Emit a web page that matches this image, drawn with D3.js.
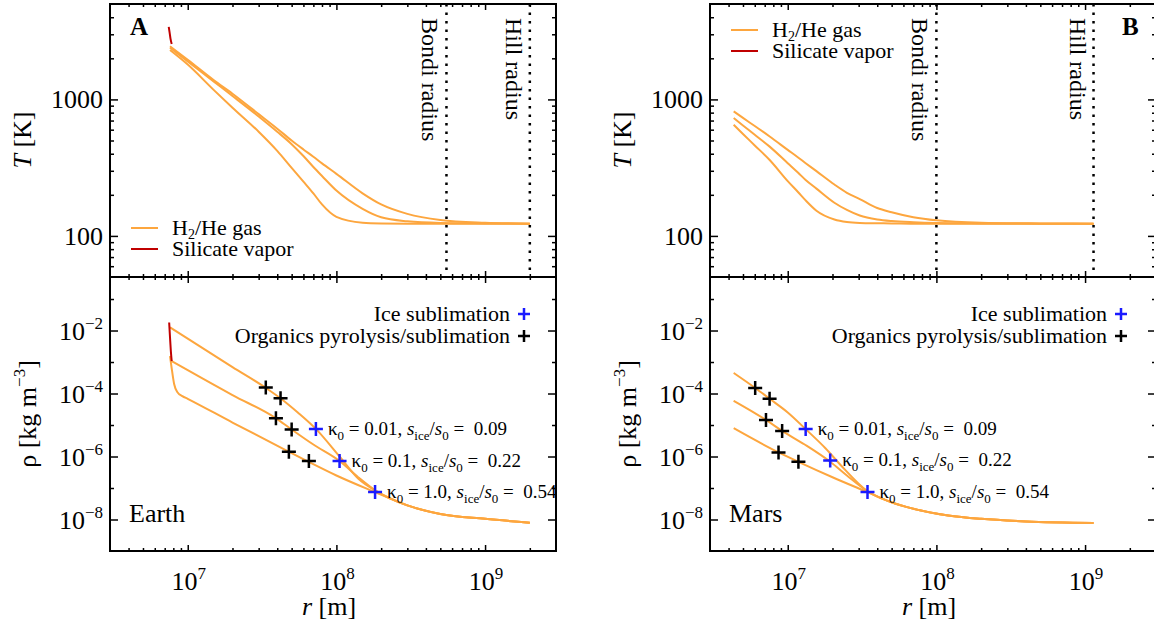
<!DOCTYPE html>
<html>
<head>
<meta charset="utf-8">
<script src="https://cdn.jsdelivr.net/npm/d3@7"></script>
<style>
  body { margin: 0; background: #fff; }
  svg text { font-family: "Liberation Serif", "Times New Roman", serif; fill: #000; }
</style>
</head>
<body>
<div id="chart"></div>
<script>
// ---- data ----
// Earth (panel A), temperature profiles for kappa0 = 0.01, 0.1, 1.0
const earthTempR = [7.6e6, 1e7, 1.5e7, 2e7, 3e7, 4e7, 5e7, 6e7, 7e7, 8e7, 1e8, 1.5e8, 2e8, 3e8, 5e8, 1e9, 2e9];
const earthTempK001 = [2300, 1800, 1170, 870, 580, 420, 315, 250, 205, 170, 138, 125, 123.5, 123, 123, 123, 123];
const earthTempK01 = [2390, 1900, 1350, 1060, 750, 580, 470, 385, 320, 275, 215, 158, 137, 128, 124.5, 123.5, 123];
const earthTempK1 = [2450, 1950, 1380, 1100, 780, 610, 500, 430, 380, 340, 285, 205, 170, 145, 131, 125, 123];
const earthVaporTempR = [7.45e6, 7.55e6, 7.65e6, 7.8e6];
const earthVaporTemp = [3400, 3100, 2800, 2550];

// Earth density profiles
const earthRhoR001 = [7.6e6, 1e7, 2e7, 3.35e7, 4.2e7, 5.5e7, 7.3e7, 1.05e8, 1.4e8, 1.86e8, 3e8, 5e8, 1e9, 2e9];
const earthRhoK001 = [1.26e-2, 5.5e-3, 6.9e-4, 1.51e-4, 7.1e-5, 2.5e-5, 7.4e-6, 1.0e-6, 2.0e-7, 7.9e-8, 2.8e-8, 1.5e-8, 1.05e-8, 7.9e-9];
const earthRhoR01 = [7.8e6, 1e7, 2e7, 3.9e7, 5e7, 7e7, 1.05e8, 1.4e8, 1.86e8, 3e8, 5e8, 1e9, 2e9];
const earthRhoK01 = [1.07e-3, 5.5e-4, 8.9e-5, 1.66e-5, 7.2e-6, 2.4e-6, 7.2e-7, 2.2e-7, 7.9e-8, 2.8e-8, 1.5e-8, 1.05e-8, 7.9e-9];
const earthRhoR1 = [7.6e6, 7.8e6, 8.1e6, 8.5e6, 9.2e6, 1e7, 2e7, 4.8e7, 6.5e7, 1e8, 1.82e8, 3e8, 5e8, 1e9, 2e9];
const earthRhoK1 = [1.55e-3, 6.3e-4, 2.0e-4, 1.12e-4, 8.3e-5, 6.8e-5, 1.2e-5, 1.41e-6, 6.8e-7, 2.5e-7, 7.4e-8, 2.8e-8, 1.5e-8, 1.05e-8, 7.9e-9];
const earthVaporRhoR = [7.5e6, 7.6e6, 7.7e6, 7.8e6];
const earthVaporRho = [1.8e-2, 6e-3, 2.2e-3, 1.07e-3];

// Mars (panel B)
const marsTempR = [4.33e6, 5e6, 6e6, 7.56e6, 1e7, 1.18e7, 1.32e7, 1.56e7, 2.06e7, 2.5e7, 3.05e7, 4e7, 5e7, 7e7, 1e8, 2e8, 5e8, 1.14e9];
const marsTempK001 = [652, 558, 460, 360, 252, 208, 182, 153, 132, 126.5, 124.5, 123.8, 123.5, 123, 123, 123, 123, 123];
const marsTempK01 = [730, 644, 551, 451, 341, 289, 257, 222, 175, 155, 141, 132, 128.5, 126, 124.5, 123.5, 123, 123];
const marsTempK1 = [817, 732, 638, 535, 427, 374, 341, 298, 238, 207, 186, 160, 149, 137, 130, 125, 123.5, 123];

const marsRhoR001 = [4.33e6, 6.04e6, 7.55e6, 1e7, 1.32e7, 1.8e7, 2.3e7, 3.44e7, 5e7, 7e7, 1.2e8, 2e8, 4e8, 1.14e9];
const marsRhoK001 = [4.5e-4, 1.5e-4, 6.8e-5, 2.5e-5, 7.4e-6, 1.8e-6, 5.0e-7, 7.9e-8, 3.5e-8, 2.2e-8, 1.35e-8, 1.05e-8, 8.7e-9, 7.8e-9];
const marsRhoR01 = [4.33e6, 7.14e6, 9.17e6, 1.3e7, 1.93e7, 2.5e7, 3.44e7, 5e7, 7e7, 1.2e8, 2e8, 4e8, 1.14e9];
const marsRhoK01 = [5.9e-5, 1.45e-5, 6.5e-6, 2.4e-6, 6.8e-7, 2.5e-7, 7.9e-8, 3.5e-8, 2.2e-8, 1.35e-8, 1.05e-8, 8.7e-9, 7.8e-9];
const marsRhoR1 = [4.33e6, 8.67e6, 1.18e7, 2e7, 3.44e7, 5e7, 7e7, 1.2e8, 2e8, 4e8, 1.14e9];
const marsRhoK1 = [7.9e-6, 1.35e-6, 6.8e-7, 2.2e-7, 7.4e-8, 3.5e-8, 2.2e-8, 1.35e-8, 1.05e-8, 8.7e-9, 7.8e-9];

// sublimation markers
const earthOrganicsR = [3.35e7, 4.21e7, 3.92e7, 5.0e7, 4.79e7, 6.53e7];
const earthOrganicsRho = [1.55e-4, 7.1e-5, 1.64e-5, 7.2e-6, 1.41e-6, 7.2e-7];
const earthIceR = [7.28e7, 1.05e8, 1.82e8];
const earthIceRho = [7.5e-6, 7.2e-7, 7.5e-8];
const marsOrganicsR = [6.04e6, 7.55e6, 7.14e6, 9.17e6, 8.67e6, 1.18e7];
const marsOrganicsRho = [1.5e-4, 6.8e-5, 1.45e-5, 6.4e-6, 1.35e-6, 6.8e-7];
const marsIceR = [1.32e7, 1.93e7, 3.44e7];
const marsIceRho = [7.5e-6, 7.5e-7, 7.5e-8];

const kappaLabels = ["0.01", "0.1", "1.0"];
const iceRatioLabels = ["0.09", "0.22", "0.54"];

// Bondi and Hill radii
const earthBondi = 5.5e8, earthHill = 2.0e9;
const marsBondi = 1.0e8, marsHill = 1.14e9;

// ticks
const rMajor = [1e7, 1e8, 1e9];
const rMinor = [];
[1e6, 1e7, 1e8, 1e9].forEach(d => { for (let k = 2; k <= 9; k++) rMinor.push(d * k); });
const tMajor = [100, 1000];
const tMinor = [60, 70, 80, 90, 200, 300, 400, 500, 600, 700, 800, 900, 2000, 3000, 4000];
const rhoMajor = [1e-8, 1e-6, 1e-4, 1e-2];
const rhoMinor = [1e-7, 1e-5, 1e-3, 1e-1];

// ---- layout ----
const svgWidth = 1154, svgHeight = 624;
const yTop = 4, yMid = 277, yBottom = 551;
const orange = "#fda63e", red = "#c00000", blue = "#1a1aff";

const svg = d3.select("#chart").append("svg")
  .attr("width", svgWidth)
  .attr("height", svgHeight);

const panels = [
  {
    left: 110, right: 556, tag: "A", tagX: 130, name: "Earth",
    temp: [[earthTempR, earthTempK001], [earthTempR, earthTempK01], [earthTempR, earthTempK1]],
    vaporTemp: [earthVaporTempR, earthVaporTemp],
    rho: [[earthRhoR001, earthRhoK001], [earthRhoR01, earthRhoK01], [earthRhoR1, earthRhoK1]],
    vaporRho: [earthVaporRhoR, earthVaporRho],
    organicsR: earthOrganicsR, organicsRho: earthOrganicsRho,
    iceR: earthIceR, iceRho: earthIceRho,
    bondi: earthBondi, hill: earthHill,
    legendTop: { x: 131, y: 228 },
    legendBottomX: 524
  },
  {
    left: 710, right: 1156, tag: "B", tagX: 1122, name: "Mars",
    temp: [[marsTempR, marsTempK001], [marsTempR, marsTempK01], [marsTempR, marsTempK1]],
    vaporTemp: null,
    rho: [[marsRhoR001, marsRhoK001], [marsRhoR01, marsRhoK01], [marsRhoR1, marsRhoK1]],
    vaporRho: null,
    organicsR: marsOrganicsR, organicsRho: marsOrganicsRho,
    iceR: marsIceR, iceRho: marsIceRho,
    bondi: marsBondi, hill: marsHill,
    legendTop: { x: 731, y: 30 },
    legendBottomX: 1121
  }
];

function tickGroup(g, axis, values, size) {
  g.call(axis.tickValues(values).tickSize(size).tickFormat(() => ""));
  g.select(".domain").remove();
  g.selectAll("text").remove();
  g.selectAll("line").attr("stroke", "#000").attr("stroke-width", 1.5);
}

function power(sel, base, exp) {
  sel.append("tspan").text(base);
  sel.append("tspan").attr("dy", -11).attr("font-size", 17).text(exp);
}

function plus(g, cx, cy, half, color) {
  g.append("path")
    .attr("d", `M${cx - half},${cy}H${cx + half}M${cx},${cy - half}V${cy + half}`)
    .attr("stroke", color)
    .attr("stroke-width", 2.5)
    .attr("fill", "none");
}

function drawPanel(p) {
  const g = svg.append("g");
  const x = d3.scaleLog().domain([3e6, 3e9]).range([p.left, p.right]);
  const yT = d3.scaleLog().domain([50, 5000]).range([yMid, yTop]);
  const yR = d3.scaleLog().domain([1e-9, 0.5]).range([yBottom, yMid]);

  const lineT = d3.line().x(d => x(d[0])).y(d => yT(d[1])).curve(d3.curveMonotoneX);
  const lineR = d3.line().x(d => x(d[0])).y(d => yR(d[1])).curve(d3.curveMonotoneX);

  // temperature curves
  p.temp.forEach(([r, v]) => {
    g.append("path").datum(d3.zip(r, v))
      .attr("d", lineT).attr("fill", "none")
      .attr("stroke", orange).attr("stroke-width", 2);
  });
  if (p.vaporTemp) {
    g.append("path").datum(d3.zip(p.vaporTemp[0], p.vaporTemp[1]))
      .attr("d", lineT).attr("fill", "none")
      .attr("stroke", red).attr("stroke-width", 2);
  }

  // density curves
  p.rho.forEach(([r, v]) => {
    g.append("path").datum(d3.zip(r, v))
      .attr("d", lineR).attr("fill", "none")
      .attr("stroke", orange).attr("stroke-width", 2);
  });
  if (p.vaporRho) {
    g.append("path").datum(d3.zip(p.vaporRho[0], p.vaporRho[1]))
      .attr("d", lineR).attr("fill", "none")
      .attr("stroke", red).attr("stroke-width", 2);
  }

  // markers
  p.organicsR.forEach((r, i) => plus(g, x(r), yR(p.organicsRho[i]), 7, "#000"));
  p.iceR.forEach((r, i) => {
    const cx = x(r), cy = yR(p.iceRho[i]);
    plus(g, cx, cy, 7, blue);
    const t = g.append("text")
      .attr("x", cx + 12).attr("y", cy + 6)
      .attr("font-size", 19)
      .style("white-space", "pre");
    t.append("tspan").text("κ");
    t.append("tspan").attr("font-size", 13).attr("dy", 5).text("0");
    t.append("tspan").attr("dy", -5).text(" = " + kappaLabels[i] + ", ");
    t.append("tspan").attr("font-style", "italic").text("s");
    t.append("tspan").attr("font-size", 13).attr("dy", 5).text("ice");
    t.append("tspan").attr("dy", -5).text("/");
    t.append("tspan").attr("font-style", "italic").text("s");
    t.append("tspan").attr("font-size", 13).attr("dy", 5).text("0");
    t.append("tspan").attr("dy", -5).text(" =  " + iceRatioLabels[i]);
  });

  // Bondi and Hill radius lines
  [[p.bondi, "Bondi radius"], [p.hill, "Hill radius"]].forEach(([r, label]) => {
    const lx = x(r);
    g.append("line")
      .attr("x1", lx).attr("x2", lx).attr("y1", yTop).attr("y2", yMid)
      .attr("stroke", "#000").attr("stroke-width", 2.5)
      .attr("stroke-dasharray", "2.5 6");
    g.append("text")
      .attr("transform", `translate(${lx - 24},18) rotate(90)`)
      .attr("font-size", 24)
      .text(label);
  });

  // ticks, all four sides of both frames
  const xAxes = [
    [d3.axisTop(x), yTop], [d3.axisBottom(x), yMid],
    [d3.axisTop(x), yMid], [d3.axisBottom(x), yBottom]
  ];
  xAxes.forEach(([axis, y0]) => {
    tickGroup(g.append("g").attr("transform", `translate(0,${y0})`), axis, rMinor.filter(v => v > 3e6 && v < 3e9), -3);
    tickGroup(g.append("g").attr("transform", `translate(0,${y0})`), axis, rMajor, -6);
  });
  [[d3.axisLeft, p.left], [d3.axisRight, p.right]].forEach(([mk, x0]) => {
    tickGroup(g.append("g").attr("transform", `translate(${x0},0)`), mk(yT), tMinor, -4);
    tickGroup(g.append("g").attr("transform", `translate(${x0},0)`), mk(yT), tMajor, -8);
    tickGroup(g.append("g").attr("transform", `translate(${x0},0)`), mk(yR), rhoMinor, -4);
    tickGroup(g.append("g").attr("transform", `translate(${x0},0)`), mk(yR), rhoMajor, -8);
  });

  // frames
  [[yTop, yMid], [yMid, yBottom]].forEach(([a, b]) => {
    g.append("rect")
      .attr("x", p.left).attr("y", a)
      .attr("width", p.right - p.left).attr("height", b - a)
      .attr("fill", "none").attr("stroke", "#000").attr("stroke-width", 2);
  });

  // tick labels
  tMajor.forEach(v => {
    g.append("text").attr("x", p.left - 7).attr("y", yT(v) + 9)
      .attr("text-anchor", "end").attr("font-size", 26).text(v);
  });
  rhoMajor.forEach(v => {
    const t = g.append("text").attr("x", p.left - 7).attr("y", yR(v) + 9)
      .attr("text-anchor", "end").attr("font-size", 26);
    power(t, "10", "\u2212" + Math.round(-Math.log10(v)));
  });
  rMajor.forEach(v => {
    const t = g.append("text").attr("x", x(v) + 1).attr("y", 590)
      .attr("text-anchor", "middle").attr("font-size", 26);
    power(t, "10", String(Math.round(Math.log10(v))));
  });

  // axis titles
  const tT = g.append("text")
    .attr("transform", `translate(${p.left - 79},140) rotate(-90)`)
    .attr("text-anchor", "middle").attr("font-size", 26);
  tT.append("tspan").attr("font-style", "italic").text("T");
  tT.append("tspan").text(" [K]");

  const tR = g.append("text")
    .attr("transform", `translate(${p.left - 74},414) rotate(-90)`)
    .attr("text-anchor", "middle").attr("font-size", 26);
  tR.append("tspan").text("ρ [kg m");
  tR.append("tspan").attr("dy", -11).attr("font-size", 17).text("\u22123");
  tR.append("tspan").attr("dy", 11).text("]");

  const tx = g.append("text")
    .attr("x", (p.left + p.right) / 2 - 4).attr("y", 615)
    .attr("text-anchor", "middle").attr("font-size", 26);
  tx.append("tspan").attr("font-style", "italic").text("r");
  tx.append("tspan").text(" [m]");

  // panel tag and planet name
  g.append("text").attr("x", p.tagX).attr("y", 35)
    .attr("font-size", 25).attr("font-weight", "bold").text(p.tag);
  g.append("text").attr("x", p.left + 19).attr("y", 522)
    .attr("font-size", 26).text(p.name);

  // legend, top frame
  const lt = p.legendTop;
  [["H2", orange], ["Silicate vapor", red]].forEach(([label, color], i) => {
    const ly = lt.y + i * 21;
    g.append("line").attr("x1", lt.x).attr("x2", lt.x + 27)
      .attr("y1", ly).attr("y2", ly)
      .attr("stroke", color).attr("stroke-width", 2);
    const t = g.append("text").attr("x", lt.x + 41).attr("y", ly + 7).attr("font-size", 22);
    if (i === 0) {
      t.append("tspan").text("H");
      t.append("tspan").attr("dy", 4).attr("font-size", 14).text("2");
      t.append("tspan").attr("dy", -4).text("/He gas");
    } else {
      t.text(label);
    }
  });

  // legend, bottom frame
  const bx = p.legendBottomX;
  g.append("text").attr("x", bx - 14).attr("y", 321)
    .attr("text-anchor", "end").attr("font-size", 22).text("Ice sublimation");
  plus(g, bx, 314, 6, blue);
  g.append("text").attr("x", bx - 14).attr("y", 343)
    .attr("text-anchor", "end").attr("font-size", 22).text("Organics pyrolysis/sublimation");
  plus(g, bx, 336, 6, "#000");
}

panels.forEach(drawPanel);
</script>
</body>
</html>
